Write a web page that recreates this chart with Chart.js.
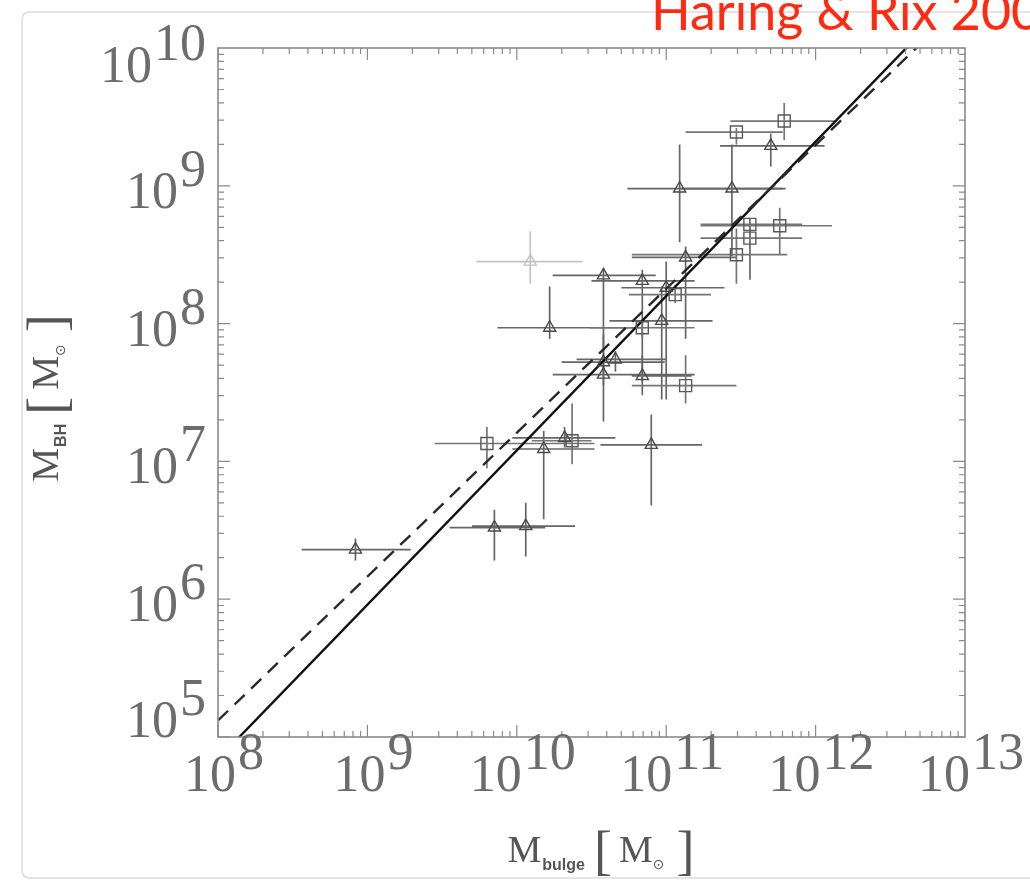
<!DOCTYPE html>
<html>
<head>
<meta charset="utf-8">
<script src="https://cdn.jsdelivr.net/npm/chart.js@4/dist/chart.umd.min.js"></script>
<style>
  html, body { margin: 0; padding: 0; background: #fff; }
  #wrap { position: relative; width: 1030px; height: 882px; }
</style>
</head>
<body>
<div id="wrap"><canvas id="bhChart"></canvas></div>
<script>
// all values are log10
// triangles
var triX   = [11.70, 11.09, 11.44, 11.13, 10.58, 10.84, 11.00, 10.22, 10.97, 10.58, 10.66, 10.58, 10.84, 10.32, 10.18, 10.90, 9.85, 10.06, 8.92];
var triY   = [9.29, 8.98, 8.98, 8.48, 8.35, 8.31, 8.26, 7.97, 8.02, 7.72, 7.74, 7.63, 7.62, 7.17, 7.09, 7.12, 6.52, 6.53, 6.36];
var triXLo = [11.36, 10.74, 11.09, 10.77, 10.24, 10.50, 10.70, 9.87, 10.62, 10.30, 10.40, 10.24, 10.77, 9.97, 9.97, 10.56, 9.55, 9.70, 8.56];
var triXHi = [12.06, 11.78, 11.80, 11.47, 10.93, 11.19, 11.39, 10.84, 11.31, 10.99, 11.00, 11.19, 11.17, 10.66, 10.52, 11.24, 10.19, 10.39, 9.29];
var triYLo = [9.14, 8.59, 8.49, 7.89, 7.65, 7.58, 7.45, 7.89, 7.45, 7.29, 7.65, 7.55, 7.48, 7.10, 6.58, 6.68, 6.28, 6.31, 6.28];
var triYHi = [9.38, 9.30, 9.30, 8.56, 8.40, 8.39, 8.45, 8.27, 8.27, 7.92, 7.80, 7.70, 7.77, 7.25, 7.22, 7.34, 6.65, 6.70, 6.44];

// squares
var sqX   = [11.47, 11.79, 11.56, 11.56, 11.76, 11.47, 11.06, 10.84, 11.13, 9.80, 10.37];
var sqY   = [9.39, 9.47, 8.72, 8.62, 8.71, 8.50, 8.21, 7.97, 7.55, 7.13, 7.15];
var sqXLo = [11.13, 11.43, 11.23, 11.23, 11.23, 10.77, 10.75, 10.49, 10.77, 9.45, 10.10];
var sqXHi = [11.78, 12.14, 11.91, 11.91, 12.11, 11.81, 11.30, 11.19, 11.47, 10.52, 10.50];
var sqYLo = [9.30, 9.33, 8.32, 8.32, 8.50, 8.29, 8.15, 7.90, 7.42, 6.95, 6.98];
var sqYHi = [9.42, 9.60, 8.76, 8.76, 8.84, 8.69, 8.28, 8.02, 7.77, 7.25, 7.42];

// the faint grey point
var fadeX = [10.09], fadeY = [8.45];
var fadeXLo = [9.73], fadeXHi = [10.44], fadeYLo = [8.29], fadeYHi = [8.67];

// fit lines (end points)
var lineX = [8, 13];
var solidY = [4.84, 10.44];
var dashY = [5.12, 10.34];

var xTicks = [8, 9, 10, 11, 12, 13];
var yTicks = [5, 6, 7, 8, 9, 10];

function pts(xs, ys) {
    return xs.map(function (v, i) { return { x: Math.pow(10, v), y: Math.pow(10, ys[i]) }; });
}

var errorSets = [
    { x: fadeX, y: fadeY, xLo: fadeXLo, xHi: fadeXHi, yLo: fadeYLo, yHi: fadeYHi, color: "#c4c4c4" },
    { x: triX, y: triY, xLo: triXLo, xHi: triXHi, yLo: triYLo, yHi: triYHi, color: "#666" },
    { x: sqX, y: sqY, xLo: sqXLo, xHi: sqXHi, yLo: sqYLo, yHi: sqYHi, color: "#767676" }
];

var serif = "'Liberation Serif', 'DejaVu Serif', serif";
var labelFont = "52px " + serif;

function drawPower(ctx, base, exp, x, y, align) {
    ctx.font = labelFont;
    var wb = ctx.measureText(base).width;
    var we = ctx.measureText(exp).width;
    var gap = 2;
    var total = wb + gap + we;
    var left = align === "right" ? x - total : x - total / 2;
    ctx.textAlign = "left";
    ctx.textBaseline = "alphabetic";
    ctx.fillText(base, left, y);
    ctx.fillText(exp, left + wb + gap, y - 22);
}

// pieces: [text, font, dy, gapAfter]
function drawPieces(ctx, pieces, cx, cy) {
    var total = 0;
    pieces.forEach(function (p) { ctx.font = p[1]; total += ctx.measureText(p[0]).width + (p[3] || 0); });
    var x = cx - total / 2;
    ctx.textAlign = "left";
    ctx.textBaseline = "alphabetic";
    pieces.forEach(function (p) {
        ctx.font = p[1];
        ctx.fillText(p[0], x, cy + p[2]);
        x += ctx.measureText(p[0]).width + (p[3] || 0);
    });
}

var titleParts = function (sub) {
    return [
        ["M", "38px " + serif, 0, 1],
        [sub, "bold 16px 'Liberation Sans Narrow', 'Liberation Sans', sans-serif", 8, 9],
        ["[", "54px " + serif, 7, 7],
        ["M", "38px " + serif, 0, 0],
        ["\u2299", "14px 'DejaVu Sans', sans-serif", 7, 12],
        ["]", "54px " + serif, 7, 0]
    ];
};

var decorPlugin = {
    id: "decor",
    beforeDatasetsDraw: function (chart) {
        var ctx = chart.ctx, xs = chart.scales.x, ys = chart.scales.y, a = chart.chartArea;
        ctx.save();
        ctx.beginPath();
        ctx.rect(a.left, a.top, a.right - a.left, a.bottom - a.top);
        ctx.clip();
        ctx.lineWidth = 1.7;
        errorSets.forEach(function (s) {
            ctx.strokeStyle = s.color;
            for (var i = 0; i < s.x.length; i++) {
                var px = xs.getPixelForValue(Math.pow(10, s.x[i]));
                var py = ys.getPixelForValue(Math.pow(10, s.y[i]));
                ctx.beginPath();
                ctx.moveTo(xs.getPixelForValue(Math.pow(10, s.xLo[i])), py);
                ctx.lineTo(xs.getPixelForValue(Math.pow(10, s.xHi[i])), py);
                ctx.moveTo(px, ys.getPixelForValue(Math.pow(10, s.yLo[i])));
                ctx.lineTo(px, ys.getPixelForValue(Math.pow(10, s.yHi[i])));
                ctx.stroke();
            }
        });
        ctx.restore();
    },
    afterDraw: function (chart) {
        var ctx = chart.ctx, xs = chart.scales.x, ys = chart.scales.y, a = chart.chartArea;
        ctx.save();

        // outer slide frame
        ctx.strokeStyle = "#dcdcdc";
        ctx.lineWidth = 1.5;
        ctx.beginPath();
        ctx.moveTo(1040, 12);
        ctx.lineTo(30, 12);
        ctx.quadraticCurveTo(22, 12, 22, 20);
        ctx.lineTo(22, 870);
        ctx.quadraticCurveTo(22, 878, 30, 878);
        ctx.lineTo(1040, 878);
        ctx.stroke();

        // plot box
        ctx.strokeStyle = "#8a8a8a";
        ctx.lineWidth = 1.6;
        ctx.strokeRect(a.left, a.top, a.right - a.left, a.bottom - a.top);

        // tick marks on all four sides
        ctx.lineWidth = 1.2;
        ctx.beginPath();
        for (var d = 8; d < 13; d++) {
            for (var m = 1; m < 10; m++) {
                var px = xs.getPixelForValue(m * Math.pow(10, d));
                var len = m === 1 ? 12 : 6;
                ctx.moveTo(px, a.bottom); ctx.lineTo(px, a.bottom - len);
                ctx.moveTo(px, a.top); ctx.lineTo(px, a.top + len);
            }
        }
        for (var e = 5; e < 10; e++) {
            for (var n = 1; n < 10; n++) {
                var py = ys.getPixelForValue(n * Math.pow(10, e));
                var l2 = n === 1 ? 12 : 6;
                ctx.moveTo(a.left, py); ctx.lineTo(a.left + l2, py);
                ctx.moveTo(a.right, py); ctx.lineTo(a.right - l2, py);
            }
        }
        ctx.stroke();

        // tick labels
        ctx.fillStyle = "#6c6c6c";
        xTicks.forEach(function (t) {
            var px = xs.getPixelForValue(Math.pow(10, t));
            drawPower(ctx, "10", String(t), px + 6, a.bottom + 54, "center");
        });
        yTicks.forEach(function (t, i) {
            var py = ys.getPixelForValue(Math.pow(10, t));
            var shift = i === 0 ? -17 : (i === yTicks.length - 1 ? 17 : 5);
            drawPower(ctx, "10", String(t), a.left - 12, py + shift + 17, "right");
        });

        // axis titles
        ctx.fillStyle = "#555";
        drawPieces(ctx, titleParts("bulge"), 601, 862);
        ctx.save();
        ctx.translate(58, 398);
        ctx.rotate(-Math.PI / 2);
        drawPieces(ctx, titleParts("BH"), 0, 0);
        ctx.restore();

        // red caption, cut at the top edge
        ctx.fillStyle = "#ff2a10";
        ctx.font = "52px Lato, 'Open Sans', sans-serif";
        ctx.textAlign = "left";
        ctx.textBaseline = "alphabetic";
        ctx.fillText("Haring & Rix 2003", 651, 30);

        ctx.restore();
    }
};

new Chart(document.getElementById("bhChart"), {
    type: "scatter",
    data: {
        datasets: [
            {
                label: "faint",
                data: pts(fadeX, fadeY),
                pointStyle: "triangle",
                pointRadius: 7,
                borderColor: "#c4c4c4",
                backgroundColor: "rgba(0,0,0,0)",
                pointBorderWidth: 1.4
            },
            {
                label: "triangles",
                data: pts(triX, triY),
                pointStyle: "triangle",
                pointRadius: 7,
                borderColor: "#4a4a4a",
                backgroundColor: "rgba(0,0,0,0)",
                pointBorderWidth: 1.4
            },
            {
                label: "squares",
                data: pts(sqX, sqY),
                pointStyle: "rect",
                pointRadius: 8.5,
                borderColor: "#5a5a5a",
                backgroundColor: "rgba(0,0,0,0)",
                pointBorderWidth: 1.4
            },
            {
                label: "dashed",
                data: pts(lineX, dashY),
                showLine: true,
                pointRadius: 0,
                borderColor: "#2a2a2a",
                borderWidth: 2.4,
                borderDash: [14, 9]
            },
            {
                label: "solid",
                data: pts(lineX, solidY),
                showLine: true,
                pointRadius: 0,
                borderColor: "#111",
                borderWidth: 2.4
            }
        ]
    },
    options: {
        responsive: true,
        maintainAspectRatio: false,
        animation: false,
        layout: { padding: { left: 218, right: 65, top: 48, bottom: 145 } },
        plugins: {
            legend: { display: false },
            tooltip: { enabled: false }
        },
        scales: {
            x: { type: "logarithmic", min: 1e8, max: 1e13, display: false },
            y: { type: "logarithmic", min: 1e5, max: 1e10, display: false }
        }
    },
    plugins: [decorPlugin]
});
</script>
</body>
</html>
